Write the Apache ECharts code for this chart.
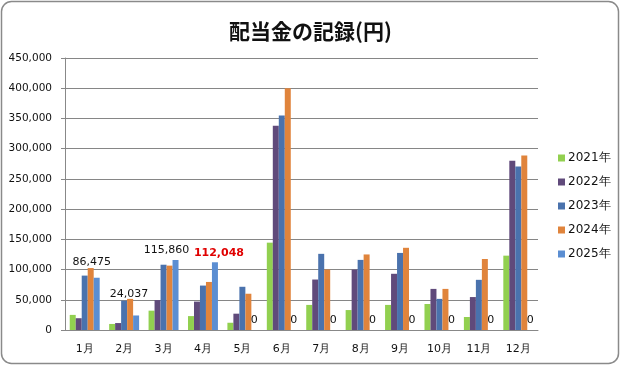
<!DOCTYPE html>
<html><head><meta charset="utf-8">
<script src="https://cdn.jsdelivr.net/npm/echarts@6/dist/echarts.min.js"></script>
<style>html,body{margin:0;padding:0;background:#fff}#c{width:621px;height:366px}</style>
</head><body><div id="c"></div>
<script>
var categories = ['1月','2月','3月','4月','5月','6月','7月','8月','9月','10月','11月','12月'];
var seriesNames = ['2021年','2022年','2023年','2024年','2025年'];
var y2021 = [25000, 10000, 32000, 23000, 12000, 144500, 41500, 33000, 41500, 43000, 21500, 123000];
var y2022 = [19500, 11500, 49500, 47000, 27000, 338000, 83500, 100000, 93000, 68000, 54500, 280000];
var y2023 = [90000, 48500, 108000, 73500, 71500, 355000, 126000, 116000, 127500, 51500, 83000, 270500];
var y2024 = [102500, 51500, 106500, 79500, 60000, 400000, 100000, 125000, 136000, 68000, 117500, 288500];
var y2025 = [86475, 24037, 115860, 112048, 0, 0, 0, 0, 0, 0, 0, 0];
var yTicks = [0, 50000, 100000, 150000, 200000, 250000, 300000, 350000, 400000, 450000];
var highlightIndex = 3;

var colors = ['#92D050', '#604A7B', '#4A72AD', '#E0843C', '#5B8ED2'];
var font = 'DejaVu Sans, Verdana, sans-serif';
function fmt(v){ return String(v).replace(/\B(?=(\d{3})+(?!\d))/g, ','); }

// label nudges (styling only) for the manually placed labels in the source chart
var labelNudge = {0: [-5, -6], 1: [-7, -12], 2: [-9, 0], 3: [4, 0]};

var data2025 = y2025.map(function(v, i){
  var d = {value: v, label: {}};
  if (labelNudge[i]) d.label.offset = labelNudge[i];
  if (i === highlightIndex) { d.label.color = '#E00000'; d.label.fontWeight = 'bold'; }
  return d;
});
var allData = [y2021, y2022, y2023, y2024, data2025];

var chart = echarts.init(document.getElementById('c'), null, {renderer: 'canvas'});
chart.setOption({
  animation: false,
  color: colors,
  title: {
    text: '配当金の記録(円)', left: 'center', top: 16,
    textStyle: {fontFamily: 'Noto Sans CJK JP', fontSize: 21, fontWeight: 'bold', color: '#111'}
  },
  graphic: [{
    type: 'rect', silent: true,
    shape: {x: 1.5, y: 1.5, width: 617, height: 362, r: 10},
    style: {fill: 'none', stroke: '#8a8a8a', lineWidth: 1.5}
  }],
  legend: {
    orient: 'vertical', left: 553, top: 146,
    itemWidth: 7, itemHeight: 7, itemGap: 10,
    icon: 'rect',
    textStyle: {fontFamily: font, fontSize: 12, color: '#111', lineHeight: 14, padding: [0,0,0,-2]},
    data: seriesNames
  },
  grid: {left: 65, right: 83, top: 58, bottom: 36, containLabel: false},
  xAxis: {
    type: 'category', data: categories,
    axisLine: {lineStyle: {color: '#888'}},
    axisTick: {show: false},
    axisLabel: {fontFamily: font, fontSize: 11, color: '#111', margin: 14}
  },
  yAxis: {
    type: 'value', min: yTicks[0], max: yTicks[yTicks.length-1], interval: yTicks[1]-yTicks[0],
    axisLine: {show: true, lineStyle: {color: '#888'}},
    axisTick: {show: true, length: 4, lineStyle: {color: '#888'}},
    splitLine: {lineStyle: {color: '#868686', width: 1}},
    axisLabel: {fontFamily: font, fontSize: 10.5, color: '#111', margin: 13, formatter: fmt}
  },
  series: seriesNames.map(function(name, i){
    var s = {
      name: name, type: 'bar', data: allData[i],
      barGap: '0%', barCategoryGap: '24%'
    };
    if (i === 4) {
      s.label = {show: true, position: 'top', distance: 4, fontFamily: font, fontSize: 11, color: '#111',
        formatter: function(p){ return fmt(p.value); }};
    }
    return s;
  })
});
</script></body></html>
